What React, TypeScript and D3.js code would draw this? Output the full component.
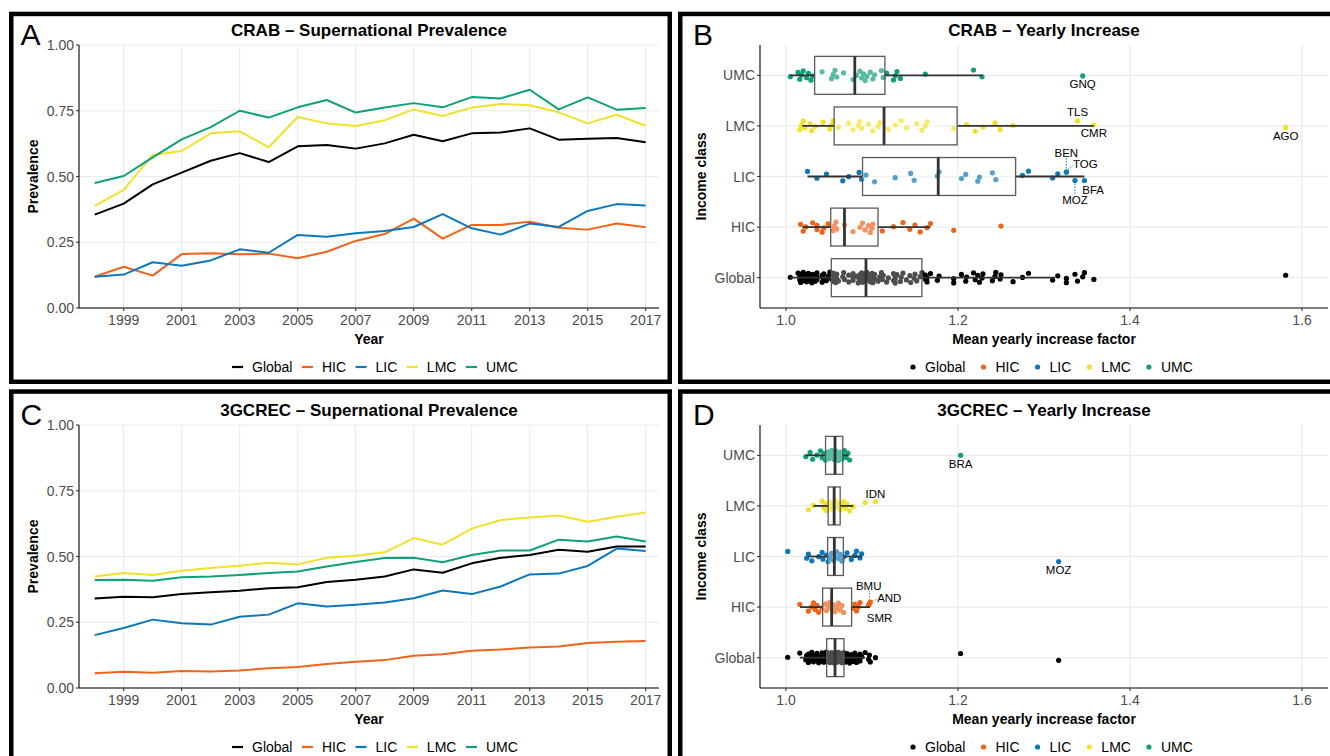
import React from 'react';
import * as d3 from 'd3';

// ---------------- DATA ----------------
const classes = ['Global', 'HIC', 'LIC', 'LMC', 'UMC'];
const rowOrder = ['UMC', 'LMC', 'LIC', 'HIC', 'Global'];
const years = [1998, 1999, 2000, 2001, 2002, 2003, 2004, 2005, 2006, 2007, 2008, 2009, 2010, 2011, 2012, 2013, 2014, 2015, 2016, 2017];
const yearTicks = [1999, 2001, 2003, 2005, 2007, 2009, 2011, 2013, 2015, 2017];
const prevTicks = [0, 0.25, 0.5, 0.75, 1];
const factorTicks = [1.0, 1.2, 1.4, 1.6];

// CRAB supernational prevalence
const crabGlobal = [0.355, 0.397, 0.470, 0.515, 0.560, 0.589, 0.555, 0.615, 0.620, 0.606, 0.626, 0.659, 0.634, 0.664, 0.667, 0.683, 0.640, 0.644, 0.646, 0.630];
const crabHIC = [0.119, 0.157, 0.123, 0.205, 0.208, 0.204, 0.207, 0.189, 0.214, 0.255, 0.281, 0.340, 0.264, 0.316, 0.316, 0.328, 0.305, 0.298, 0.321, 0.307];
const crabLIC = [0.119, 0.127, 0.174, 0.161, 0.181, 0.223, 0.210, 0.278, 0.271, 0.284, 0.293, 0.308, 0.357, 0.303, 0.279, 0.321, 0.308, 0.369, 0.395, 0.390];
const crabLMC = [0.388, 0.449, 0.582, 0.597, 0.664, 0.672, 0.611, 0.726, 0.702, 0.692, 0.714, 0.755, 0.730, 0.762, 0.776, 0.771, 0.744, 0.702, 0.735, 0.693];
const crabUMC = [0.475, 0.502, 0.573, 0.641, 0.688, 0.750, 0.724, 0.763, 0.791, 0.743, 0.762, 0.779, 0.763, 0.802, 0.797, 0.830, 0.755, 0.801, 0.754, 0.760];

// 3GCREC supernational prevalence
const g3Global = [0.340, 0.347, 0.345, 0.357, 0.364, 0.370, 0.379, 0.383, 0.403, 0.412, 0.424, 0.451, 0.438, 0.474, 0.495, 0.506, 0.526, 0.518, 0.538, 0.538];
const g3HIC = [0.056, 0.062, 0.058, 0.065, 0.063, 0.067, 0.075, 0.080, 0.091, 0.100, 0.106, 0.123, 0.128, 0.142, 0.146, 0.154, 0.158, 0.171, 0.176, 0.179];
const g3LIC = [0.201, 0.228, 0.260, 0.246, 0.241, 0.271, 0.279, 0.322, 0.310, 0.317, 0.325, 0.341, 0.371, 0.357, 0.386, 0.432, 0.435, 0.464, 0.530, 0.521];
const g3LMC = [0.424, 0.437, 0.430, 0.446, 0.456, 0.465, 0.476, 0.470, 0.495, 0.503, 0.516, 0.570, 0.545, 0.606, 0.639, 0.648, 0.656, 0.632, 0.651, 0.667];
const g3UMC = [0.411, 0.412, 0.408, 0.421, 0.424, 0.430, 0.437, 0.443, 0.462, 0.479, 0.494, 0.495, 0.478, 0.506, 0.523, 0.523, 0.564, 0.557, 0.576, 0.557];

// CRAB mean yearly increase factor per country
const crabUMCPts = [1.005, 1.014, 1.016, 1.018, 1.020, 1.024, 1.026, 1.029, 1.031, 1.042, 1.053, 1.055, 1.057, 1.059, 1.067, 1.078, 1.082, 1.086, 1.088, 1.090, 1.092, 1.094, 1.098, 1.101, 1.103, 1.111, 1.113, 1.117, 1.125, 1.127, 1.129, 1.133, 1.162, 1.218, 1.228, 1.345];
const crabLMCPts = [1.016, 1.018, 1.020, 1.022, 1.028, 1.030, 1.034, 1.043, 1.051, 1.053, 1.055, 1.061, 1.073, 1.078, 1.084, 1.086, 1.088, 1.096, 1.101, 1.107, 1.109, 1.119, 1.127, 1.134, 1.140, 1.152, 1.158, 1.162, 1.164, 1.195, 1.210, 1.220, 1.229, 1.243, 1.249, 1.264, 1.339, 1.358, 1.581];
const crabLICPts = [1.025, 1.036, 1.047, 1.066, 1.073, 1.085, 1.088, 1.093, 1.103, 1.127, 1.145, 1.149, 1.176, 1.178, 1.204, 1.209, 1.223, 1.225, 1.240, 1.244, 1.275, 1.282, 1.310, 1.316, 1.326, 1.326, 1.336, 1.347];
const crabHICPts = [1.017, 1.020, 1.023, 1.031, 1.036, 1.036, 1.042, 1.044, 1.049, 1.055, 1.056, 1.058, 1.059, 1.068, 1.078, 1.086, 1.089, 1.092, 1.096, 1.098, 1.100, 1.101, 1.112, 1.125, 1.136, 1.144, 1.150, 1.156, 1.164, 1.168, 1.195, 1.250];

// CRAB box statistics: [lower whisker, Q1, median, Q3, upper whisker]
const crabBoxGlobal = [1.005, 1.0527, 1.093, 1.158, 1.313];
const crabBoxHIC = [1.019, 1.052, 1.068, 1.107, 1.168];
const crabBoxLIC = [1.025, 1.089, 1.177, 1.267, 1.347];
const crabBoxLMC = [1.019, 1.056, 1.114, 1.199, 1.358];
const crabBoxUMC = [1.005, 1.0333, 1.080, 1.115, 1.228];

// 3GCREC mean yearly increase factor per country
const g3UMCPts = [1.023, 1.028, 1.031, 1.036, 1.040, 1.042, 1.044, 1.046, 1.048, 1.049, 1.050, 1.052, 1.053, 1.054, 1.055, 1.056, 1.057, 1.058, 1.059, 1.060, 1.061, 1.062, 1.063, 1.065, 1.066, 1.068, 1.070, 1.072, 1.074, 1.203];
const g3LMCPts = [1.026, 1.032, 1.042, 1.044, 1.046, 1.047, 1.049, 1.051, 1.053, 1.055, 1.057, 1.059, 1.061, 1.063, 1.065, 1.067, 1.069, 1.071, 1.074, 1.078, 1.092, 1.104];
const g3LICPts = [1.002, 1.024, 1.026, 1.030, 1.038, 1.042, 1.043, 1.047, 1.049, 1.051, 1.053, 1.055, 1.057, 1.059, 1.061, 1.063, 1.065, 1.067, 1.071, 1.076, 1.080, 1.082, 1.086, 1.088, 1.317];
const g3HICPts = [1.016, 1.026, 1.030, 1.032, 1.034, 1.036, 1.038, 1.042, 1.046, 1.047, 1.049, 1.051, 1.053, 1.055, 1.057, 1.059, 1.061, 1.063, 1.065, 1.067, 1.078, 1.080, 1.082, 1.084, 1.086, 1.096, 1.097, 1.098];

const g3BoxGlobal = [1.016, 1.0473, 1.057, 1.0674, 1.092];
const g3BoxHIC = [1.0163, 1.0426, 1.0531, 1.0763, 1.0977];
const g3BoxLIC = [1.0252, 1.0484, 1.0562, 1.0667, 1.088];
const g3BoxLMC = [1.032, 1.049, 1.056, 1.063, 1.078];
const g3BoxUMC = [1.023, 1.046, 1.057, 1.066, 1.0725];

// labelled countries
const crabLabelNames = ['GNQ', 'TLS', 'CMR', 'AGO', 'BEN', 'TOG', 'MOZ', 'BFA'];
const crabLabelClasses = ['UMC', 'LMC', 'LMC', 'LMC', 'LIC', 'LIC', 'LIC', 'LIC'];
const crabLabelValues = [1.345, 1.339, 1.358, 1.581, 1.326, 1.326, 1.336, 1.347];

const g3LabelNames = ['BRA', 'IDN', 'MOZ', 'BMU', 'AND', 'SMR'];
const g3LabelClasses = ['UMC', 'LMC', 'LIC', 'HIC', 'HIC', 'HIC'];
const g3LabelValues = [1.203, 1.104, 1.317, 1.097, 1.098, 1.096];

// ---------------- STYLE / LAYOUT ----------------
const COLORS: Record<string, string> = {
  Global: '#000000',
  HIC: '#F0641A',
  LIC: '#0C78BC',
  LMC: '#F2E12B',
  UMC: '#0EA078',
};
const FONT = "'Liberation Sans', Arial, Helvetica, sans-serif";
const TICK_COL = '#4D4D4D';
const GRID_COL = '#EBEBEB';

type LabLayout = { pdy: number; dx: number; dy: number; lead?: number[] };
const crabLabelLayout: Record<string, LabLayout> = {
  GNQ: { pdy: 0.6, dx: 0, dy: 8.5 },
  TLS: { pdy: -5, dx: 0, dy: -8.7 },
  CMR: { pdy: -1, dx: 0, dy: 8.5 },
  AGO: { pdy: 1.5, dx: 0, dy: 8.5 },
  BEN: { pdy: -4.4, dx: 0, dy: -19.6, lead: [0, -3.5, 0, -14] },
  TOG: { pdy: -4.4, dx: 19, dy: -8.3, lead: [1.5, -2.5, 7, -7] },
  MOZ: { pdy: 4, dx: 0, dy: 19.3, lead: [0, 3, 0, 14] },
  BFA: { pdy: 4, dx: 8.7, dy: 9 },
};
const g3LabelLayout: Record<string, LabLayout> = {
  BRA: { pdy: 0, dx: 0, dy: 8.5 },
  IDN: { pdy: -4.4, dx: 0, dy: -7.5 },
  MOZ: { pdy: 5, dx: 0, dy: 8.5 },
  BMU: { pdy: -3.4, dx: -0.7, dy: -17.6, lead: [0, -3, 0, -13] },
  AND: { pdy: -5, dx: 19, dy: -3.7, lead: [2, -1, 8, -3] },
  SMR: { pdy: -2, dx: 11, dy: 13.3 },
};

const CHAR_W: Record<string, number> = { G: 0.778, l: 0.222, o: 0.556, b: 0.556, a: 0.556, H: 0.722, I: 0.278, C: 0.722, L: 0.556, M: 0.833, U: 0.722 };
const textW = (s: string, fs: number) => s.split('').reduce((a, c) => a + (CHAR_W[c] ?? 0.6), 0) * fs;

function jitter(i: number, row: number) {
  const f = ((i + 1) * 0.6180339887 + row * 0.2113) % 1;
  return (f - 0.5) * 11;
}

// ---------------- COMPONENTS ----------------
function PanelFrame({ x, y }: { x: number; y: number }) {
  return <rect x={x} y={y} width={658.5} height={367.8} fill="none" stroke="#000" strokeWidth={4.5} />;
}

function LineLegend({ y, startX }: { y: number; startX: number }) {
  let cx = startX;
  const items = classes.map((c) => {
    const kx = cx;
    const tx = kx + 20;
    cx = tx + textW(c, 14) + 9.5;
    return (
      <g key={c}>
        <line x1={kx} x2={kx + 11} y1={y} y2={y} stroke={COLORS[c]} strokeWidth={2.2} />
        <text x={tx} y={y} dominantBaseline="central" fontSize={14} fill="#000">{c}</text>
      </g>
    );
  });
  return <g>{items}</g>;
}

function DotLegend({ y, startX }: { y: number; startX: number }) {
  let cx = startX;
  const items = classes.map((c) => {
    const dx = cx;
    const tx = dx + 12;
    cx = tx + textW(c, 14) + 18;
    return (
      <g key={c}>
        <circle cx={dx} cy={y} r={2.6} fill={COLORS[c]} />
        <text x={tx} y={y} dominantBaseline="central" fontSize={14} fill="#000">{c}</text>
      </g>
    );
  });
  return <g>{items}</g>;
}

function LinePanel({ oy, letter, title, series }: { oy: number; letter: string; title: string; series: Record<string, number[]> }) {
  const L = 79, R = 659, T = 45 + oy, B = 308 + oy;
  const x = d3.scaleLinear().domain([1998, 2017]).range([94.7, 645.7]);
  const y = d3.scaleLinear().domain([0, 1]).range([B, T]);
  const line = d3.line<number>().x((_, i) => x(years[i])).y((d) => y(d));
  const fmt = d3.format('.2f');
  return (
    <g>
      {yearTicks.map((t) => (
        <line key={'vx' + t} x1={x(t)} x2={x(t)} y1={T} y2={B} stroke={GRID_COL} strokeWidth={1.1} />
      ))}
      {prevTicks.map((t) => (
        <line key={'hy' + t} x1={L} x2={R} y1={y(t)} y2={y(t)} stroke={GRID_COL} strokeWidth={1.1} />
      ))}
      {classes.map((c) => (
        <path key={c} d={line(series[c]) || ''} fill="none" stroke={COLORS[c]} strokeWidth={2} strokeLinejoin="round" />
      ))}
      <line x1={L} x2={L} y1={T} y2={B} stroke="#000" strokeWidth={1.1} />
      <line x1={L} x2={R} y1={B} y2={B} stroke="#000" strokeWidth={1.1} />
      {prevTicks.map((t) => (
        <g key={'yt' + t}>
          <line x1={L - 3} x2={L} y1={y(t)} y2={y(t)} stroke="#333" strokeWidth={1.1} />
          <text x={L - 5} y={y(t)} textAnchor="end" dominantBaseline="central" fontSize={14} fill={TICK_COL}>{fmt(t)}</text>
        </g>
      ))}
      {yearTicks.map((t) => (
        <g key={'xt' + t}>
          <line x1={x(t)} x2={x(t)} y1={B} y2={B + 3} stroke="#333" strokeWidth={1.1} />
          <text x={x(t)} y={B + 11.5} textAnchor="middle" dominantBaseline="central" fontSize={14} fill={TICK_COL}>{t}</text>
        </g>
      ))}
      <text x={(L + R) / 2} y={T - 9} textAnchor="middle" fontSize={17} fontWeight="bold" fill="#000">{title}</text>
      <text x={(L + R) / 2} y={B + 31} textAnchor="middle" dominantBaseline="central" fontSize={14} fontWeight="bold" fill="#000">Year</text>
      <text transform={`translate(33,${(T + B) / 2}) rotate(-90)`} textAnchor="middle" dominantBaseline="central" fontSize={14} fontWeight="bold" fill="#000">Prevalence</text>
      <text x={20.5} y={T} fontSize={30} fill="#000">{letter}</text>
      <LineLegend y={B + 59} startX={232} />
    </g>
  );
}

function BoxPanel({ oy, letter, title, points, boxes, labNames, labClasses, labValues, labLayout }: {
  oy: number; letter: string; title: string; points: Record<string, number[]>; boxes: Record<string, number[]>;
  labNames: string[]; labClasses: string[]; labValues: number[]; labLayout: Record<string, LabLayout>;
}) {
  const L = 760, R = 1328, T = 45 + oy, B = 308 + oy;
  const x = d3.scaleLinear().domain([1, 1.6]).range([786, 1302]);
  const y = d3.scalePoint<string>().domain(rowOrder).range([T, B]).padding(0.6);
  const step = y.step();
  const hh = step * 0.375;

  // labelled point assignments
  const pointDy: Record<string, Map<number, number>> = {};
  const labels: { name: string; cls: string; px: number; py: number; lay: LabLayout }[] = [];
  labNames.forEach((name, k) => {
    const cls = labClasses[k];
    const v = labValues[k];
    const lay = labLayout[name];
    const arr = points[cls];
    pointDy[cls] = pointDy[cls] || new Map();
    let idx = arr.findIndex((a, i) => Math.abs(a - v) < 1e-9 && !pointDy[cls].has(i));
    if (idx < 0) idx = arr.findIndex((a) => Math.abs(a - v) < 1e-9);
    pointDy[cls].set(idx, lay.pdy);
    labels.push({ name, cls, px: x(v), py: (y(cls) as number) + lay.pdy, lay });
  });

  return (
    <g>
      {factorTicks.map((t) => (
        <line key={'vx' + t} x1={x(t)} x2={x(t)} y1={T} y2={B} stroke={GRID_COL} strokeWidth={1.3} />
      ))}
      {rowOrder.map((c) => (
        <line key={'hy' + c} x1={L} x2={R} y1={y(c)} y2={y(c)} stroke={GRID_COL} strokeWidth={1.3} />
      ))}
      {rowOrder.map((c, ri) => {
        const cy = y(c) as number;
        return (
          <g key={'pts' + c}>
            {points[c].map((v, i) => {
              const dyMap = pointDy[c];
              const dy = dyMap && dyMap.has(i) ? (dyMap.get(i) as number) : jitter(i, ri);
              return <circle key={i} cx={x(v)} cy={cy + dy} r={2.6} fill={COLORS[c]} />;
            })}
          </g>
        );
      })}
      {rowOrder.map((c) => {
        const cy = y(c) as number;
        const [wl, q1, md, q3, wh] = boxes[c];
        return (
          <g key={'box' + c}>
            <line x1={x(wl)} x2={x(q1)} y1={cy} y2={cy} stroke="#333" strokeWidth={1.8} />
            <line x1={x(q3)} x2={x(wh)} y1={cy} y2={cy} stroke="#333" strokeWidth={1.8} />
            <rect x={x(q1)} y={cy - hh} width={x(q3) - x(q1)} height={hh * 2} fill="#fff" fillOpacity={0.3} stroke="#5a5a5a" strokeWidth={1.3} />
            <line x1={x(md)} x2={x(md)} y1={cy - hh} y2={cy + hh} stroke="#333" strokeWidth={2.8} />
          </g>
        );
      })}
      {labels.map((lb, k) => (
        <g key={'lab' + k}>
          {lb.lay.lead && (
            <line x1={lb.px + lb.lay.lead[0]} y1={lb.py + lb.lay.lead[1]} x2={lb.px + lb.lay.lead[2]} y2={lb.py + lb.lay.lead[3]}
              stroke={COLORS[lb.cls]} strokeWidth={1} strokeDasharray="1.5,1.5" />
          )}
          <text x={lb.px + lb.lay.dx} y={lb.py + lb.lay.dy} textAnchor="middle" dominantBaseline="central" fontSize={11.5} fill="#000">{lb.name}</text>
        </g>
      ))}
      <line x1={L} x2={L} y1={T} y2={B} stroke="#000" strokeWidth={1.1} />
      <line x1={L} x2={R} y1={B} y2={B} stroke="#000" strokeWidth={1.1} />
      {rowOrder.map((c) => (
        <g key={'yt' + c}>
          <line x1={L - 3} x2={L} y1={y(c)} y2={y(c)} stroke="#333" strokeWidth={1.1} />
          <text x={L - 5} y={y(c)} textAnchor="end" dominantBaseline="central" fontSize={14} fill={TICK_COL}>{c}</text>
        </g>
      ))}
      {factorTicks.map((t) => (
        <g key={'xt' + t}>
          <line x1={x(t)} x2={x(t)} y1={B} y2={B + 3} stroke="#333" strokeWidth={1.1} />
          <text x={x(t)} y={B + 11.5} textAnchor="middle" dominantBaseline="central" fontSize={14} fill={TICK_COL}>{d3.format('.1f')(t)}</text>
        </g>
      ))}
      <text x={(L + R) / 2} y={T - 9} textAnchor="middle" fontSize={17} fontWeight="bold" fill="#000">{title}</text>
      <text x={(L + R) / 2} y={B + 31} textAnchor="middle" dominantBaseline="central" fontSize={14} fontWeight="bold" fill="#000">Mean yearly increase factor</text>
      <text transform={`translate(701,${(T + B) / 2}) rotate(-90)`} textAnchor="middle" dominantBaseline="central" fontSize={14} fontWeight="bold" fill="#000">Income class</text>
      <text x={693} y={T} fontSize={30} fill="#000">{letter}</text>
      <DotLegend y={B + 59} startX={913} />
    </g>
  );
}

export default function App() {
  const crabSeries = { Global: crabGlobal, HIC: crabHIC, LIC: crabLIC, LMC: crabLMC, UMC: crabUMC };
  const g3Series = { Global: g3Global, HIC: g3HIC, LIC: g3LIC, LMC: g3LMC, UMC: g3UMC };
  const crabPoints: Record<string, number[]> = {
    UMC: crabUMCPts, LMC: crabLMCPts, LIC: crabLICPts, HIC: crabHICPts,
    Global: [...crabUMCPts, ...crabLMCPts, ...crabLICPts, ...crabHICPts].sort((a, b) => a - b),
  };
  const g3Points: Record<string, number[]> = {
    UMC: g3UMCPts, LMC: g3LMCPts, LIC: g3LICPts, HIC: g3HICPts,
    Global: [...g3UMCPts, ...g3LMCPts, ...g3LICPts, ...g3HICPts].sort((a, b) => a - b),
  };
  const crabBoxes = { Global: crabBoxGlobal, HIC: crabBoxHIC, LIC: crabBoxLIC, LMC: crabBoxLMC, UMC: crabBoxUMC };
  const g3Boxes = { Global: g3BoxGlobal, HIC: g3BoxHIC, LIC: g3BoxLIC, LMC: g3BoxLMC, UMC: g3BoxUMC };

  return (
    <svg width={1330} height={756} style={{ position: 'absolute', left: 0, top: 0, background: '#fff' }} fontFamily={FONT}>
      <rect x={0} y={0} width={1330} height={756} fill="#fff" />
      <LinePanel oy={0} letter="A" title="CRAB – Supernational Prevalence" series={crabSeries} />
      <LinePanel oy={380} letter="C" title="3GCREC – Supernational Prevalence" series={g3Series} />
      <BoxPanel oy={0} letter="B" title="CRAB – Yearly Increase" points={crabPoints} boxes={crabBoxes}
        labNames={crabLabelNames} labClasses={crabLabelClasses} labValues={crabLabelValues} labLayout={crabLabelLayout} />
      <BoxPanel oy={380} letter="D" title="3GCREC – Yearly Increase" points={g3Points} boxes={g3Boxes}
        labNames={g3LabelNames} labClasses={g3LabelClasses} labValues={g3LabelValues} labLayout={g3LabelLayout} />
      <PanelFrame x={11.25} y={13.95} />
      <PanelFrame x={680.25} y={13.95} />
      <PanelFrame x={11.25} y={391.55} />
      <PanelFrame x={680.25} y={391.55} />
    </svg>
  );
}
